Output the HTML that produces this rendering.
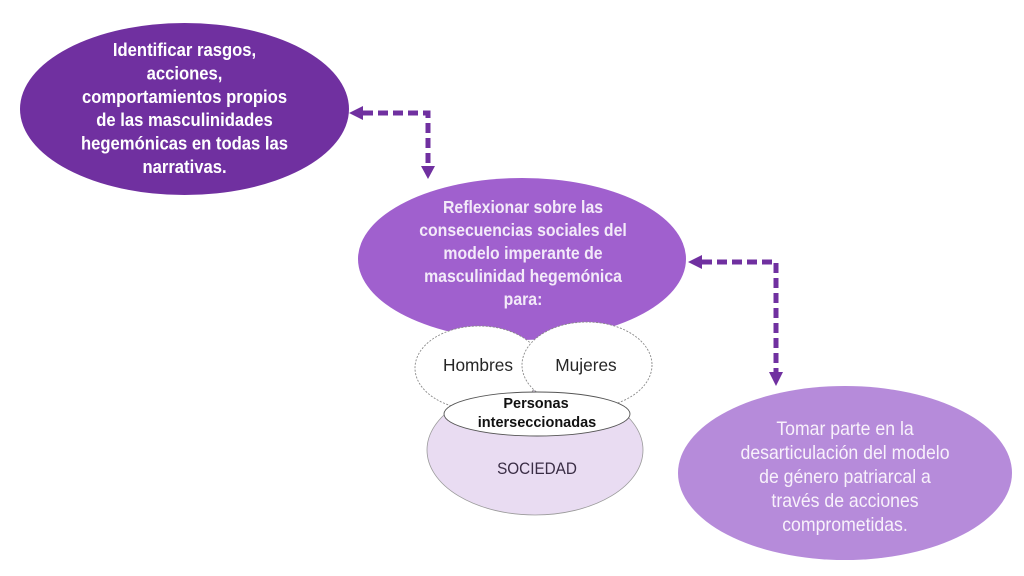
<!DOCTYPE html>
<html>
<head>
<meta charset="utf-8">
<style>
html,body{margin:0;padding:0;background:#fff;}
svg{display:block;}
text{font-family:"Liberation Sans",Arial,sans-serif;}
</style>
</head>
<body>
<svg width="1024" height="576" viewBox="0 0 1024 576" xmlns="http://www.w3.org/2000/svg">
  <rect width="1024" height="576" fill="#ffffff"/>

  <!-- Ellipse 1 -->
  <ellipse cx="184.5" cy="109" rx="164.5" ry="86" fill="#7030A0"/>
  <g transform="translate(184.5,0) scale(0.9,1)" fill="#ffffff" font-weight="bold" font-size="18.5" text-anchor="middle">
    <text x="0" y="56">Identificar rasgos,</text>
    <text x="0" y="79.4">acciones,</text>
    <text x="0" y="102.8">comportamientos propios</text>
    <text x="0" y="126.2">de las masculinidades</text>
    <text x="0" y="149.6">hegemónicas en todas las</text>
    <text x="0" y="173">narrativas.</text>
  </g>

  <!-- Ellipse 2 -->
  <ellipse cx="522" cy="259" rx="164" ry="81" fill="#A060CE"/>

  <!-- SOCIEDAD (behind circles) -->
  <ellipse cx="535" cy="450" rx="108" ry="65" fill="#E9DCF2" stroke="#9a9a9a" stroke-width="0.8"/>

  <!-- Hombres / Mujeres -->
  <ellipse cx="479" cy="368" rx="64" ry="42" fill="#ffffff" stroke="#8a8a8a" stroke-width="0.9" stroke-dasharray="2 1.5"/>
  <ellipse cx="587" cy="365" rx="65" ry="43" fill="#ffffff" stroke="#8a8a8a" stroke-width="0.9" stroke-dasharray="2 1.5"/>

  <!-- Personas -->
  <ellipse cx="537" cy="414" rx="93" ry="22" fill="#ffffff" stroke="#555555" stroke-width="0.9"/>

  <g transform="translate(523,0) scale(0.88,1)" fill="#F3EAF9" font-weight="bold" font-size="18" text-anchor="middle">
    <text x="0" y="213">Reflexionar sobre las</text>
    <text x="0" y="236">consecuencias sociales del</text>
    <text x="0" y="259">modelo imperante de</text>
    <text x="0" y="282">masculinidad hegemónica</text>
    <text x="0" y="305">para:</text>
  </g>

  <g fill="#262626" font-size="18" text-anchor="middle">
    <text x="478" y="371" transform="translate(478,0) scale(0.96,1) translate(-478,0)">Hombres</text>
    <text x="586" y="371" transform="translate(586,0) scale(0.96,1) translate(-586,0)">Mujeres</text>
  </g>
  <g fill="#111111" font-weight="bold" font-size="14.5" text-anchor="middle">
    <text x="536" y="408">Personas</text>
    <text x="537" y="427">interseccionadas</text>
  </g>
  <text x="537" y="474" fill="#3a2d45" font-size="17" text-anchor="middle" transform="translate(537,0) scale(0.9,1) translate(-537,0)">SOCIEDAD</text>

  <!-- Ellipse 3 -->
  <ellipse cx="845" cy="473" rx="167" ry="87" fill="#B68BDA"/>
  <g transform="translate(845,0) scale(0.93,1)" fill="#F8F1FB" font-size="19" text-anchor="middle">
    <text x="0" y="435">Tomar parte en la</text>
    <text x="0" y="459">desarticulación del modelo</text>
    <text x="0" y="483">de género patriarcal a</text>
    <text x="0" y="507">través de acciones</text>
    <text x="0" y="531">comprometidas.</text>
  </g>

  <!-- Arrow 1 -->
  <g stroke="#7030A0" stroke-width="5" fill="none">
    <path d="M363 113 H428 V166" stroke-dasharray="10 5"/>
  </g>
  <g fill="#7030A0">
    <polygon points="349,113 363,106 363,120"/>
    <polygon points="428,179 421,166 435,166"/>
  </g>

  <!-- Arrow 2 -->
  <g stroke="#7030A0" stroke-width="5" fill="none">
    <path d="M702 262 H776 V372" stroke-dasharray="10 5"/>
  </g>
  <g fill="#7030A0">
    <polygon points="688,262 702,255 702,269"/>
    <polygon points="776,386 769,372 783,372"/>
  </g>
</svg>
</body>
</html>
